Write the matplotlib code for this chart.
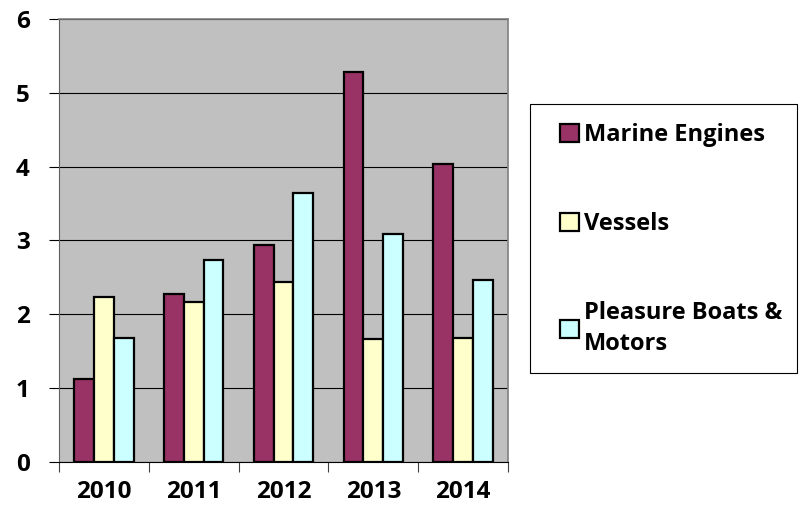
import matplotlib.pyplot as plt
from matplotlib.patches import Rectangle
import numpy as np

years = ["2010", "2011", "2012", "2013", "2014"]
marine_engines = [1.13, 2.28, 2.94, 5.28, 4.04]
vessels = [2.24, 2.17, 2.44, 1.67, 1.68]
pleasure_boats = [1.68, 2.74, 3.65, 3.09, 2.46]

series = [
    ("Marine Engines", marine_engines, "#993366"),
    ("Vessels", vessels, "#FFFFCC"),
    ("Pleasure Boats &\nMotors", pleasure_boats, "#CCFFFF"),
]

plt.rcParams['font.family'] = ['Open Sans', 'DejaVu Sans']
plt.rcParams['font.weight'] = 'bold'

W, H = 804, 517
fig = plt.figure(figsize=(W / 100, H / 100), dpi=100)
ax = fig.add_axes([59 / W, 1 - 462 / H, 449 / W, 443 / H])
ax.set_facecolor("#C0C0C0")

x = np.arange(len(years))
width = 0.22
for i, (name, vals, color) in enumerate(series):
    ax.bar(x + (i - 1) * width, vals, width, color=color, edgecolor="black",
           linewidth=1.6, label=name, zorder=3)

ax.set_xlim(-0.5, len(years) - 0.5)
ax.set_ylim(0, 6)
ax.set_yticks(range(7))
ax.yaxis.grid(True, color="black", linewidth=0.8, zorder=1)

ax.set_xticks(x)
ax.set_xticklabels(years, fontweight="bold")
ax.set_xticks(np.arange(-0.5, len(years)), minor=True)
ax.tick_params(axis="x", which="major", length=0, pad=13, labelsize=17.5)
ax.tick_params(axis="x", which="minor", length=7, width=0.8, color="#404040")
ax.tick_params(axis="y", length=7, width=0.8, pad=14, labelsize=17.5)
for t in ax.get_yticklabels():
    t.set_fontweight("bold")

for side in ["top", "right"]:
    ax.spines[side].set_color("#808080")
    ax.spines[side].set_linewidth(1.2)
ax.spines["left"].set_color("#606060")
ax.spines["bottom"].set_color("black")

# legend box drawn separately so its size matches the original
fig.add_artist(Rectangle((530 / W, 1 - 373 / H), 267 / W, 269 / H,
                         transform=fig.transFigure, fill=False,
                         edgecolor="black", linewidth=0.8))
leg = fig.legend(loc="upper left", bbox_to_anchor=(560 / W, 1 - 123 / H),
                 frameon=False, prop={"size": 17, "weight": "bold"},
                 handlelength=0.8, handleheight=0.8,
                 handletextpad=0.22, labelspacing=2.75, borderpad=0,
                 borderaxespad=0)
for t in leg.get_texts():
    t.set_linespacing(1.4)

fig.savefig("out.png", dpi=100)
